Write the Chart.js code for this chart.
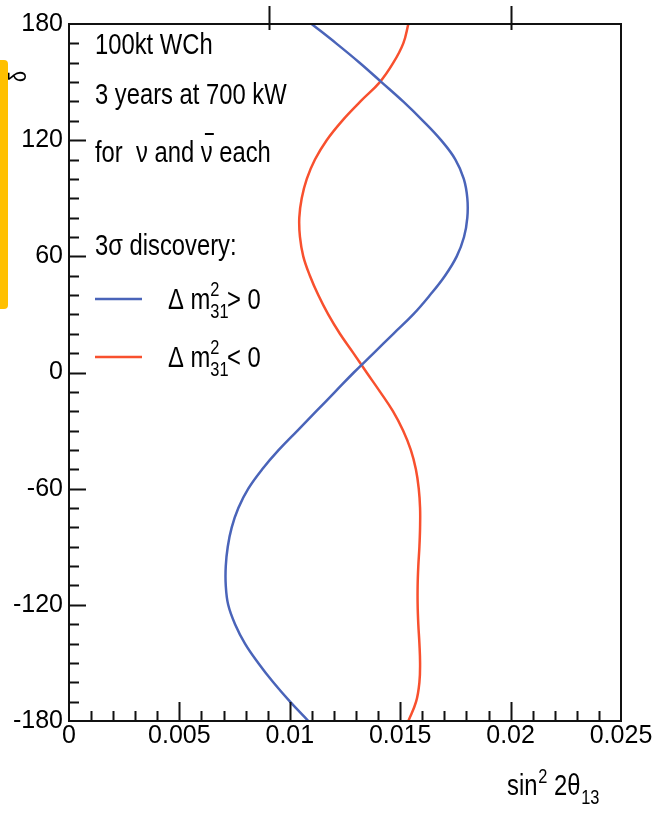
<!DOCTYPE html>
<html>
<head>
<meta charset="utf-8">
<script src="https://cdn.jsdelivr.net/npm/chart.js@4.4.0/dist/chart.umd.min.js"></script>
<style>
  body { margin: 0; background: #fff; }
  #wrap { position: relative; width: 654px; height: 814px; }
  #bar { position: absolute; left: 0; top: 60px; width: 8px; height: 249px; background: #ffc000; border-radius: 0 4px 4px 0; }
</style>
</head>
<body>
<div id="wrap">
  <canvas id="contour" width="654" height="814"></canvas>
  <div id="bar"></div>
</div>
<script>
const FONT = '"Liberation Sans", Arial, sans-serif';
const SQUEEZE = 0.82; // the plot's lettering is a narrow Helvetica

// delta_CP grid (degrees) and sin^2 2theta13 discovery limits
const deltaDeg = [180, 170, 160, 150, 140, 130, 120, 110, 100, 90, 80, 70, 60, 50, 40, 30, 20, 10, 0,
  -10, -20, -30, -40, -50, -60, -70, -80, -90, -100, -110, -120, -130, -140, -150, -160, -170, -180];
const normalX = [0.01099, 0.01210, 0.01316, 0.01415, 0.01513, 0.01603, 0.01685, 0.01750, 0.01788, 0.01804,
  0.01804, 0.01789, 0.01756, 0.01703, 0.01635, 0.01559, 0.01469, 0.01380, 0.01290,
  0.01205, 0.01120, 0.01035, 0.00950, 0.00875, 0.00812, 0.00767, 0.00737, 0.00719, 0.00710,
  0.00710, 0.00721, 0.00752, 0.00797, 0.00857, 0.00925, 0.01001, 0.01084];
const invertedX = [0.01537, 0.01514, 0.01469, 0.01408, 0.01320, 0.01237, 0.01167, 0.01114, 0.01077, 0.01054,
  0.01043, 0.01046, 0.01061, 0.01091, 0.01129, 0.01174, 0.01227, 0.01288, 0.01348,
  0.01409, 0.01467, 0.01513, 0.01548, 0.01571, 0.01584, 0.01590, 0.01590, 0.01587, 0.01582,
  0.01579, 0.01579, 0.01582, 0.01587, 0.01590, 0.01587, 0.01572, 0.01537];

const yTicks = [-180, -120, -60, 0, 60, 120, 180];
const xTicks = [0, 0.005, 0.01, 0.015, 0.02, 0.025];

const blue = '#4a64b9';
const red = '#f8502e';

const toPoints = xs => xs.map((x, i) => ({ x: x, y: deltaDeg[i] }));

// draws a run of narrow text pieces: plain, superscript, subscript, stacked sup/sub, barred
function richText(ctx, x, y, parts, size) {
  const small = Math.round(size * 0.68);
  ctx.save();
  ctx.translate(x, y);
  ctx.scale(SQUEEZE, 1);
  ctx.textBaseline = 'alphabetic';
  ctx.textAlign = 'left';
  let cx = 0;
  for (const p of parts) {
    if (p.stack) {
      ctx.font = small + 'px ' + FONT;
      const w = Math.max(ctx.measureText(p.stack[0]).width, ctx.measureText(p.stack[1]).width);
      ctx.fillText(p.stack[0], cx, -size * 0.45);
      ctx.fillText(p.stack[1], cx, size * 0.3);
      cx += w - 2;
    } else if (p.sup) {
      ctx.font = small + 'px ' + FONT;
      ctx.fillText(p.sup, cx + 1, -size * 0.42);
      cx += ctx.measureText(p.sup).width + 1;
    } else if (p.sub) {
      ctx.font = small + 'px ' + FONT;
      ctx.fillText(p.sub, cx + 1, size * 0.3);
      cx += ctx.measureText(p.sub).width + 1;
    } else if (p.bar) {
      ctx.font = size + 'px ' + FONT;
      const w = ctx.measureText(p.bar).width;
      ctx.fillText(p.bar, cx, 0);
      ctx.fillRect(cx + w * 0.35, -size * 1.0, w * 0.75, 2);
      cx += w;
    } else {
      ctx.font = size + 'px ' + FONT;
      ctx.fillText(p.t, cx, 0);
      cx += ctx.measureText(p.t).width;
    }
  }
  ctx.restore();
  return x + cx * SQUEEZE;
}

const decorations = {
  id: 'decorations',
  afterDraw(chart) {
    const ctx = chart.ctx;
    const a = chart.chartArea;
    const xs = chart.scales.x, ys = chart.scales.y;
    ctx.save();
    ctx.strokeStyle = '#111';
    ctx.fillStyle = '#000';
    ctx.lineWidth = 2;
    ctx.strokeRect(a.left, a.top, a.right - a.left, a.bottom - a.top);

    // inward ticks on left axis
    ctx.beginPath();
    for (let v = -170; v < 180; v += 10) {
      const py = Math.round(ys.getPixelForValue(v)) + 0.5;
      const len = v % 60 === 0 ? 17 : 10;
      ctx.moveTo(a.left, py);
      ctx.lineTo(a.left + len, py);
    }
    // inward ticks on bottom axis
    for (let i = 1; i < 25; i++) {
      const px = Math.round(xs.getPixelForValue(i * 0.001)) + 0.5;
      const len = i % 5 === 0 ? 19 : 10;
      ctx.moveTo(px, a.bottom);
      ctx.lineTo(px, a.bottom - len);
    }
    // stray marks on the top edge
    [0.00906, 0.02].forEach(v => {
      const px = Math.round(xs.getPixelForValue(v)) + 0.5;
      ctx.moveTo(px, a.top - 18);
      ctx.lineTo(px, a.top + 6);
    });
    ctx.stroke();

    // annotation block
    const tx = 95, size = 29;
    richText(ctx, tx, 54, [{ t: '100kt WCh' }], size);
    richText(ctx, tx, 104, [{ t: '3 years at 700 kW' }], size);
    richText(ctx, tx, 162, [{ t: 'for  ' }, { t: 'ν' }, { t: ' and ' }, { bar: 'ν' }, { t: ' each' }], size);
    richText(ctx, tx, 255, [{ t: '3σ discovery:' }], size);

    const legend = [
      { color: blue, y: 299, sign: '>' },
      { color: red, y: 357, sign: '<' }
    ];
    legend.forEach(l => {
      ctx.strokeStyle = l.color;
      ctx.lineWidth = 2.5;
      ctx.beginPath();
      ctx.moveTo(95, l.y);
      ctx.lineTo(142, l.y);
      ctx.stroke();
      ctx.fillStyle = '#000';
      richText(ctx, 168, l.y + 10, [{ t: 'Δ m' }, { stack: ['2', '31'] }, { t: l.sign + ' 0' }], size);
    });

    // axis titles
    richText(ctx, 507, 795, [{ t: 'sin' }, { sup: '2' }, { t: ' 2θ' }, { sub: '13' }], size);
    ctx.translate(26, 82);
    ctx.rotate(-Math.PI / 2);
    richText(ctx, 0, 0, [{ t: 'δ' }], 24);
    ctx.restore();
  }
};

const chart = new Chart(document.getElementById('contour'), {
  type: 'scatter',
  data: {
    datasets: [
      {
        label: 'Δm²31 > 0',
        data: toPoints(normalX),
        showLine: true,
        borderColor: blue,
        borderWidth: 2.5,
        pointRadius: 0,
        tension: 0.4
      },
      {
        label: 'Δm²31 < 0',
        data: toPoints(invertedX),
        showLine: true,
        borderColor: red,
        borderWidth: 2.5,
        pointRadius: 0,
        tension: 0.4
      }
    ]
  },
  options: {
    responsive: false,
    animation: false,
    layout: { padding: { top: 24, right: 33, left: 0, bottom: 0 } },
    plugins: {
      legend: { display: false },
      tooltip: { enabled: false }
    },
    scales: {
      x: {
        type: 'linear',
        min: 0,
        max: 0.025,
        afterFit: s => { s.height = 93; },
        afterBuildTicks: s => { s.ticks = xTicks.map(v => ({ value: v })); },
        grid: { display: false, drawTicks: false },
        border: { display: false },
        ticks: {
          color: '#000',
          padding: 0,
          maxRotation: 0,
          autoSkip: false,
          font: { family: FONT, size: 25 },
          callback: v => String(+v.toFixed(3))
        }
      },
      y: {
        type: 'linear',
        min: -180,
        max: 180,
        afterFit: s => { s.width = 69; },
        afterBuildTicks: s => { s.ticks = yTicks.map(v => ({ value: v })); },
        grid: { display: false, drawTicks: false },
        border: { display: false },
        ticks: {
          color: '#000',
          padding: 6,
          autoSkip: false,
          font: { family: FONT, size: 25 }
        }
      }
    }
  },
  plugins: [decorations]
});
</script>
</body>
</html>
